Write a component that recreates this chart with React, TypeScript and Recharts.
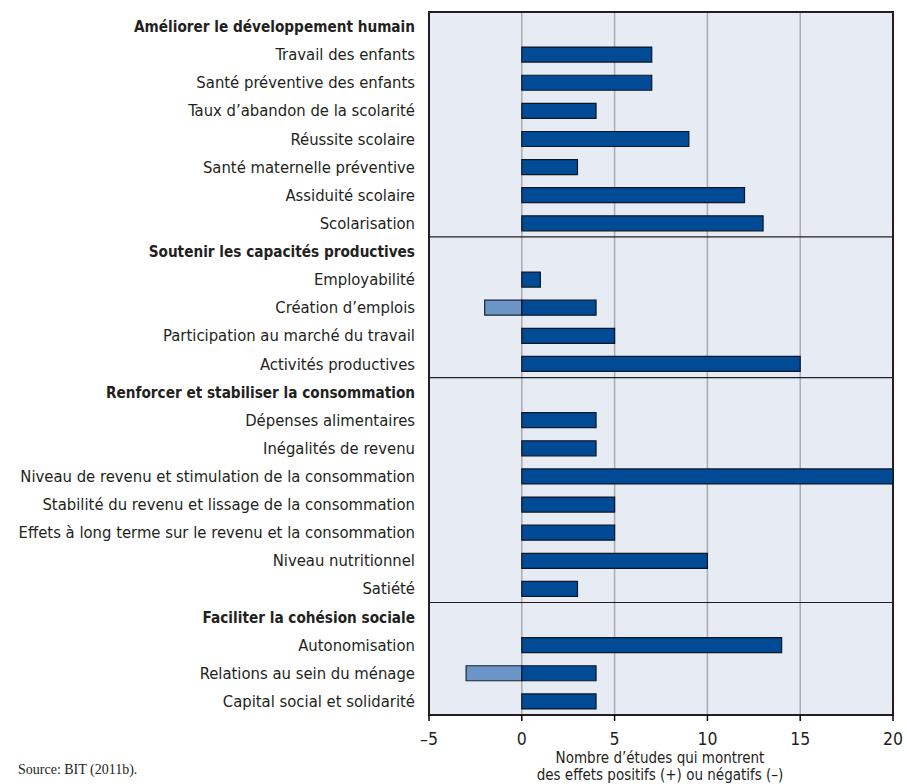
import React from "react";
import {
  BarChart,
  Bar,
  XAxis,
  YAxis,
  CartesianGrid,
  ReferenceLine,
  ReferenceArea,
} from "recharts";

const categories = [
  "Améliorer le développement humain",
  "Travail des enfants",
  "Santé préventive des enfants",
  "Taux d’abandon de la scolarité",
  "Réussite scolaire",
  "Santé maternelle préventive",
  "Assiduité scolaire",
  "Scolarisation",
  "Soutenir les capacités productives",
  "Employabilité",
  "Création d’emplois",
  "Participation au marché du travail",
  "Activités productives",
  "Renforcer et stabiliser la consommation",
  "Dépenses alimentaires",
  "Inégalités de revenu",
  "Niveau de revenu et stimulation de la consommation",
  "Stabilité du revenu et lissage de la consommation",
  "Effets à long terme sur le revenu et la consommation",
  "Niveau nutritionnel",
  "Satiété",
  "Faciliter la cohésion sociale",
  "Autonomisation",
  "Relations au sein du ménage",
  "Capital social et solidarité",
];

const headers = [
  "Améliorer le développement humain",
  "Soutenir les capacités productives",
  "Renforcer et stabiliser la consommation",
  "Faciliter la cohésion sociale",
];

const positiveEffects = [
  null, 7, 7, 4, 9, 3, 12, 13,
  null, 1, 4, 5, 15,
  null, 4, 4, 20, 5, 5, 10, 3,
  null, 14, 4, 4,
];

const negativeEffects = [
  null, 0, 0, 0, 0, 0, 0, 0,
  null, 0, -2, 0, 0,
  null, 0, 0, 0, 0, 0, 0, 0,
  null, 0, -3, 0,
];

const xTicks = [-5, 0, 5, 10, 15, 20];

const titleLines = ["Nombre d’études qui montrent", "des effets positifs (+) ou négatifs (–)"];

const data = categories.map((name, i) => ({
  name,
  pos: positiveEffects[i],
  neg: negativeEffects[i] === 0 ? null : negativeEffects[i],
}));

const FONT = "'DejaVu Sans Condensed', 'Liberation Sans', Arial, sans-serif";

const YTick = (props: any) => {
  const { x, y, payload } = props;
  const bold = headers.includes(payload.value);
  return (
    <text
      x={x}
      y={y}
      dy={6}
      textAnchor="end"
      fontFamily={FONT}
      fontSize={bold ? 15.2 : 16.5}
      fontWeight={bold ? 700 : 400}
      fill="#231f20"
    >
      {payload.value}
    </text>
  );
};

const XTick = (props: any) => {
  const { x, y, payload } = props;
  const v = payload.value;
  const label = v < 0 ? "–" + Math.abs(v) : String(v);
  return (
    <text x={x} y={y} dy={22} textAnchor="middle" fontFamily={FONT} fontSize={17.5} fill="#231f20">
      {label}
    </text>
  );
};

export default function App() {
  return (
    <div style={{ position: "absolute", left: 0, top: 0, width: 907, height: 784, background: "#fff" }}>
      <BarChart
        width={907}
        height={784}
        data={data}
        layout="vertical"
        stackOffset="sign"
        margin={{ top: 12, right: 14, left: 0, bottom: 0 }}
        barSize={15}
      >
        <CartesianGrid
          horizontal={false}
          vertical={true}
          stroke="#a9abb0"
          strokeWidth={1.5}
          fill="#e6ebf4"
          fillOpacity={1}
        />
        <XAxis
          type="number"
          domain={[-5, 20]}
          ticks={xTicks}
          interval={0}
          axisLine={false}
          tickLine={{ stroke: "#000", strokeWidth: 1.5 }}
          tickSize={6}
          tick={<XTick />}
          height={69}
        />
        <YAxis
          type="category"
          dataKey="name"
          width={429}
          interval={0}
          axisLine={false}
          tickLine={false}
          tickSize={0}
          tickMargin={14}
          tick={<YTick />}
        />
        <Bar dataKey="neg" stackId="a" fill="#6a95c6" stroke="#1c2333" strokeWidth={1.2} isAnimationActive={false} />
        <Bar dataKey="pos" stackId="a" fill="#004a96" stroke="#0d1626" strokeWidth={1.2} isAnimationActive={false} />
        {headers.slice(1).map((h) => (
          <ReferenceLine key={h} y={h} position="start" stroke="#231f20" strokeWidth={1.2} />
        ))}
        <ReferenceArea x1={-5} x2={20} stroke="#231f20" strokeWidth={2} fill="none" fillOpacity={0} />
      </BarChart>
      {titleLines.map((t, i) => (
        <div
          key={t}
          style={{
            position: "absolute",
            left: 460,
            width: 400,
            top: 750 + i * 17,
            height: 17,
            textAlign: "center",
            fontFamily: FONT,
            fontSize: 15,
            lineHeight: "17px",
            color: "#231f20",
            whiteSpace: "nowrap",
          }}
        >
          {t}
        </div>
      ))}
      <div
        style={{
          position: "absolute",
          left: 18,
          top: 762,
          fontFamily: "'Liberation Serif', 'DejaVu Serif', serif",
          fontSize: 14,
          color: "#231f20",
        }}
      >
        Source: BIT (2011b).
      </div>
    </div>
  );
}
